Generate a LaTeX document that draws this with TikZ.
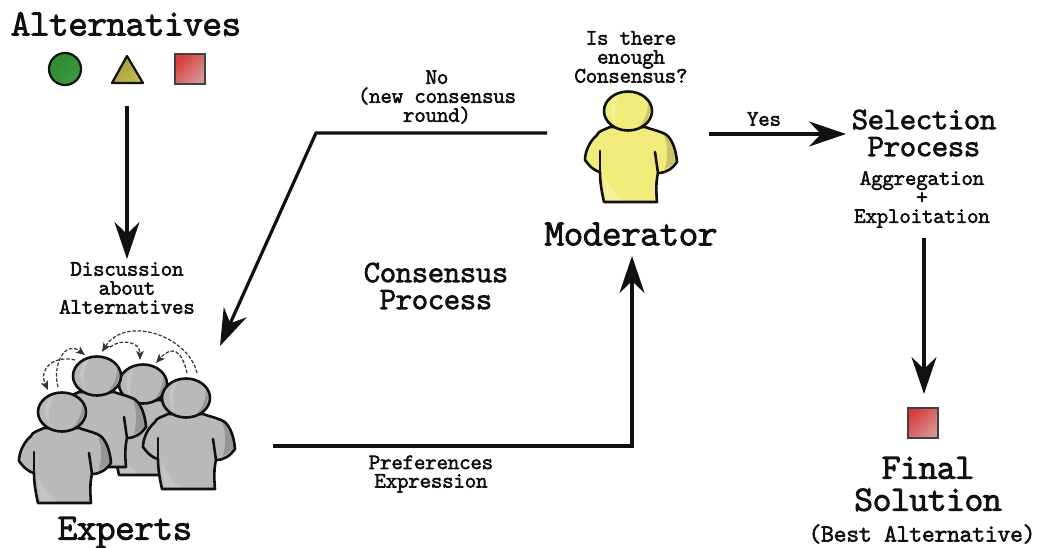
\documentclass[tikz,border=0pt]{standalone}
\usepackage{fontspec}
\newfontfamily\labfont[FakeBold=4]{Latin Modern Mono Light}
\usetikzlibrary{arrows.meta}
\definecolor{greyfill}{HTML}{B9B9B9}
\definecolor{greyshade}{HTML}{969696}
\definecolor{greylight}{HTML}{C4C4C4}
\definecolor{yelfill}{HTML}{F1EB7C}
\definecolor{yelshade}{HTML}{C9C468}
\definecolor{yellight}{HTML}{F5F09A}
\definecolor{ink}{HTML}{111111}
\definecolor{gdark}{HTML}{2C8A30}
\definecolor{glight}{HTML}{3C9A40}
\definecolor{odark}{HTML}{A59C38}
\definecolor{olight}{HTML}{C4BC50}
\definecolor{rdark}{HTML}{D83C3C}
\definecolor{rlight}{HTML}{D89494}
\tikzset{
 x=1pt,y=-1pt,
 lab/.style={inner sep=0pt,align=center,text=ink,font=\labfont\fontsize{#1}{#1}\selectfont},
 flow/.style={draw=ink,line width=3.2pt,-{Stealth[length=37pt,width=25pt,inset=12pt]}},
 talk/.style={draw=ink!85,line width=1.2pt,dash pattern=on 3.5pt off 1.8pt,-{Stealth[length=9pt,width=7.5pt,inset=2pt]}},
 outline/.style={draw=ink,line width=2.6pt,line join=round,line cap=round},
}
\newcommand{\personfig}[6]{%
 \begin{scope}[shift={(#2,#3)}]
  \coordinate (#1) at (0,0);
  \fill[#4] (-24,91) -- (29,91) .. controls (28,80) and (28,70) .. (30,62)
     .. controls (38,62) and (44,58) .. (49,51) .. controls (48,36) and (42,24) .. (35,22)
     .. controls (28,19) and (22,18) .. (17,16) -- (-18,16) .. controls (-24,19) and (-30,20) .. (-31,24)
     .. controls (-38,30) and (-43,40) .. (-43,49) .. controls (-38,56) and (-33,60) .. (-28,61)
     .. controls (-28,72) and (-26,82) .. (-24,91) -- cycle;
  \fill[#5] (36,24) .. controls (42,28) and (47,38) .. (48,50) .. controls (44,54) and (40,57) .. (37,58)
     .. controls (40,46) and (40,34) .. (36,24) -- cycle;
  \fill[#6] (-25,62) .. controls (-20,75) and (-12,85) .. (-4,90) -- (-22,90) -- cycle;
  \draw[outline] (-24,91) -- (29,91) .. controls (28,80) and (28,70) .. (30,62)
     .. controls (38,62) and (44,58) .. (49,51) .. controls (48,36) and (42,24) .. (35,22)
     .. controls (28,19) and (22,18) .. (17,16) -- (-18,16) .. controls (-24,19) and (-30,20) .. (-31,24)
     .. controls (-38,30) and (-43,40) .. (-43,49) .. controls (-38,56) and (-33,60) .. (-28,61)
     .. controls (-28,72) and (-26,82) .. (-24,91) -- cycle;
  \draw[outline] (-28,40) -- (-28,61);
  \draw[outline] (27,41) .. controls (28,48) and (29,55) .. (30,62);
  \fill[#4] (0,0) ellipse [x radius=24,y radius=19.5];
  \fill[#5] (20,-8) .. controls (24,0) and (22,10) .. (10,17) .. controls (18,8) and (20,0) .. (20,-8) -- cycle;
  \fill[#6] (-8,-17) .. controls (-18,-12) and (-20,2) .. (-12,14) .. controls (-14,2) and (-13,-8) .. (-8,-17) -- cycle;
  \draw[outline] (0,0) ellipse [x radius=24,y radius=19.5];
 \end{scope}}
\begin{document}
\begin{tikzpicture}
\useasboundingbox (0,0) rectangle (1037,547);
\fill[white] (0,0) rectangle (1037,547);
% alternatives
\node[lab=36.5] (altT) at (126,24) {Alternatives};
\node[circle,draw=ink,line width=2.2pt,inner sep=0pt,minimum size=32pt,shading=axis,left color=gdark,right color=glight,shading angle=45] (circ) at (65,69) {};
\draw[draw=ink,line width=2.2pt,line join=round,shading=axis,left color=odark,right color=olight,shading angle=45] (127,56) -- (143,83) -- (112,83) -- cycle;
\coordinate (tri) at (127,70);
\node[rectangle,draw=ink!80,line width=2.2pt,inner sep=0pt,minimum size=30pt,shading=axis,left color=rdark,right color=rlight,shading angle=45] (sq) at (190,69) {};
\node[rectangle,draw=ink!80,line width=2.2pt,inner sep=0pt,minimum size=30pt,shading=axis,left color=rdark,right color=rlight,shading angle=45] (best) at (923,423) {};
% people
\personfig{p3}{143}{384}{greyfill}{greyshade}{greylight}
\personfig{p2}{97}{376}{greyfill}{greyshade}{greylight}
\personfig{p4}{186}{398}{greyfill}{greyshade}{greylight}
\personfig{p1}{62}{412}{greyfill}{greyshade}{greylight}
\personfig{mod}{628}{111}{yelfill}{yelshade}{yellight}
% connector ends
\coordinate (a0) at (127,106); \coordinate (a1) at (127,259);
\coordinate (n0) at (547,133); \coordinate (n1) at (316,133); \coordinate (n2) at (220,346);
\coordinate (y0) at (709,134); \coordinate (y1) at (846,134);
\coordinate (e0) at (273,446); \coordinate (e1) at (632,446); \coordinate (e2) at (632,256);
\coordinate (s0) at (924,238); \coordinate (s1) at (924,394);
\draw[flow] (a0) -- (a1);
\draw[flow,line join=miter] (n0) -- (n1) -- (n2);
\draw[flow] (y0) -- (y1);
\draw[flow,line join=miter] (e0) -- (e1) -- (e2);
\draw[flow] (s0) -- (s1);
% dashed
\coordinate (t1a) at (58,387); \coordinate (t1b) at (85,355);
\coordinate (t2a) at (75,360); \coordinate (t2b) at (48,390);
\coordinate (t3a) at (197,373); \coordinate (t3b) at (102,352);
\coordinate (t4a) at (110,347); \coordinate (t4b) at (140,360);
\coordinate (t5a) at (187,373); \coordinate (t5b) at (156,363);
\draw[talk] (t1a) .. controls (52,365) and (65,340) .. (t1b);
\draw[talk] (t2a) .. controls (55,355) and (38,368) .. (t2b);
\draw[talk] (t3a) .. controls (188,335) and (125,315) .. (t3b);
\draw[talk] (t4a) .. controls (122,338) and (140,342) .. (t4b);
\draw[talk] (t5a) .. controls (182,350) and (172,345) .. (t5b);
% labels
\node[lab=21.5] (isT) at (631,57) {Is there\\[-2.5pt]enough\\[-2.5pt]Consensus?};
\node[lab=21.5] (noT) at (437,97) {No\\[-2.5pt](new consensus\\[-2.5pt]round)};
\node[lab=21.5] (yesT) at (764,119) {Yes};
\node[lab=30.5] (selT) at (924,133) {Selection\\[-3.5pt]Process};
\node[lab=21.5] (aggT) at (922,199.5) {Aggregation\\[-2.5pt]+\\[-2.5pt]Exploitation};
\node[lab=36.5] (modT) at (631,234) {Moderator};
\node[lab=30.5] (conT) at (436,286) {Consensus\\[-3.5pt]Process};
\node[lab=21.5] (disT) at (127,288) {Discussion\\[-2.5pt]about\\[-2.5pt]Alternatives};
\node[lab=21.5] (preT) at (431,474) {Preferences\\[-3pt]Expression};
\node[lab=35] (finT) at (928,484) {Final\hspace{5pt}\\[-3pt]Solution};
\node[lab=24] (bstT) at (922,534) {(Best Alternative)};
\node[lab=36.5] (expT) at (125,532.5) {Experts};
\end{tikzpicture}
\end{document}
